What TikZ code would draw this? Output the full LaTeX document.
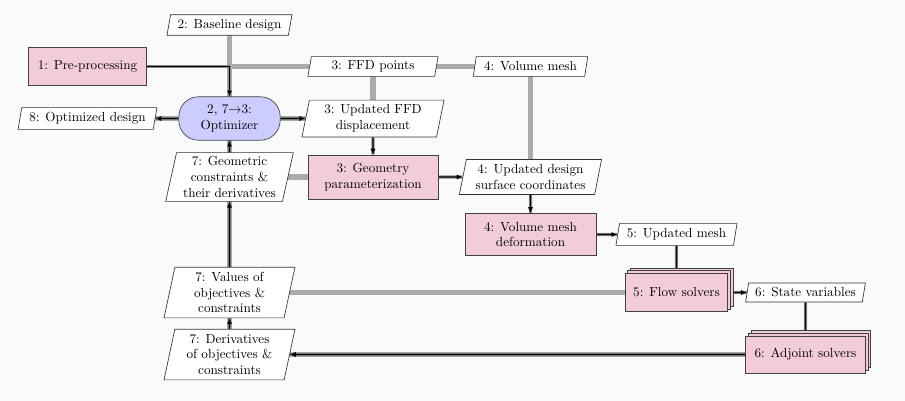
\documentclass[tikz,border=0pt]{standalone}
\usetikzlibrary{shapes.geometric,shadows,arrows.meta}
\pgfdeclarelayer{bgfill}
\pgfdeclarelayer{lines}
\pgfsetlayers{bgfill,lines,main}
\definecolor{bgc}{RGB}{250,250,250}
\definecolor{fnpink}{RGB}{242,204,217}
\definecolor{optblue}{RGB}{204,204,255}
\definecolor{datagray}{RGB}{172,172,172}
\tikzset{
 datanode/.style={trapezium, trapezium left angle=76, trapezium right angle=104,
   trapezium stretches body, draw=black!80, line width=0.5pt, fill=white,
   align=center, inner xsep=1pt, inner ysep=1pt},
 fnnode/.style={rectangle, draw=black!75, line width=0.5pt, fill=fnpink,
   align=center, inner sep=2pt},
 optnode/.style={rectangle, rounded corners=15pt, draw=black!75, line width=0.5pt,
   fill=optblue, align=center, inner sep=2pt},
 stacked/.style={double copy shadow={shadow xshift=2pt, shadow yshift=2pt}},
 dataline/.style={draw=datagray, line width=4.2pt},
 halo/.style={draw=black!45, line width=2.4pt},
 proc/.style={draw=black, line width=0.8pt},
 tip/.style={-{Latex[length=4.5pt,width=4pt]}},
}
\newcommand\procarrow[1]{\draw[halo] #1; \draw[proc,tip] #1;}
\newcommand\procplain[1]{\draw[halo] #1; \draw[proc] #1;}
\begin{document}
\begin{tikzpicture}[x=0.76pt,y=-0.76pt]
\begin{pgfonlayer}{bgfill}
\fill[bgc] (0,0) rectangle (905,401);
\end{pgfonlayer}
\useasboundingbox (0,0) rectangle (905,401);

\node[datanode, minimum width=95pt, minimum height=15.5pt] (base) at (229.5,25) {2: Baseline design};
\node[fnnode, minimum width=89.5pt, minimum height=29pt] (pre) at (87.5,66.5) {1: Pre-processing};
\node[datanode, minimum width=99pt, minimum height=15pt] (ffd) at (373,66.5) {3: FFD points};
\node[datanode, minimum width=87pt, minimum height=15pt] (vol) at (530.5,66.5) {4: Volume mesh};
\node[optnode, minimum width=77pt, minimum height=33pt] (opt) at (229.5,118.5) {2, 7$\to$3:\\Optimizer};
\node[datanode, minimum width=105.5pt, minimum height=16.5pt] (optout) at (87.5,118.5) {8: Optimized design};
\node[datanode, minimum width=108pt, minimum height=28pt] (ffddisp) at (373,118.5) {3: Updated FFD\\displacement};
\node[datanode, minimum width=97pt, minimum height=37pt] (geocon) at (229.5,177) {7: Geometric\\constraints \&\\their derivatives};
\node[fnnode, minimum width=99pt, minimum height=33.5pt] (geom) at (373,177) {3: Geometry\\parameterization};
\node[datanode, minimum width=108pt, minimum height=26.5pt] (surf) at (530.5,177) {4: Updated design\\surface coordinates};
\node[fnnode, minimum width=99.5pt, minimum height=32pt] (vmd) at (530.5,234.5) {4: Volume mesh\\deformation};
\node[datanode, minimum width=92pt, minimum height=16.5pt] (mesh) at (676.5,234.5) {5: Updated mesh};
\node[fnnode, stacked, minimum width=78pt, minimum height=29pt] (flow) at (676.5,292.5) {5: Flow solvers};
\node[datanode, minimum width=91pt, minimum height=14.5pt] (state) at (805.5,292.5) {6: State variables};
\node[fnnode, stacked, minimum width=91pt, minimum height=28pt] (adj) at (805.5,354.5) {6: Adjoint solvers};
\node[datanode, minimum width=99.5pt, minimum height=38.5pt] (vals) at (229.5,292.5) {7: Values of\\objectives \&\\constraints};
\node[datanode, minimum width=99.5pt, minimum height=38.5pt] (derivs) at (229.5,354.5) {7: Derivatives\\of objectives \&\\constraints};

\coordinate (jn) at (229.5,66.5);

\begin{pgfonlayer}{lines}
\draw[dataline] (base.center) -- (derivs.center);
\draw[dataline] (jn) -- (vol.center);
\draw[dataline] (ffd.center) -- (ffddisp.center);
\draw[dataline] (vol.center) -- (surf.center);
\draw[dataline] (optout.center) -- (ffddisp.center);
\draw[dataline] (geocon.center) -- (geom.center);
\draw[dataline] (vals.center) -- (flow.center);
\draw[dataline] (derivs.center) -- (adj.center);

\procarrow{(pre) -| (opt)}
\procarrow{(opt) -- (optout)}
\procarrow{(opt) -- (ffddisp)}
\procarrow{(ffddisp) -- (geom)}
\procarrow{(geom) -- (surf)}
\procarrow{(surf) -- (vmd)}
\procarrow{(vmd) -- (mesh)}
\procplain{(mesh) -- (flow)}
\procarrow{(flow) -- (state)}
\procplain{(state) -- (adj)}
\procarrow{(adj) -- (derivs)}
\procarrow{(derivs) -- (vals)}
\procarrow{(vals) -- (geocon)}
\procarrow{(geocon) -- (opt)}
\end{pgfonlayer}
\end{tikzpicture}
\end{document}
